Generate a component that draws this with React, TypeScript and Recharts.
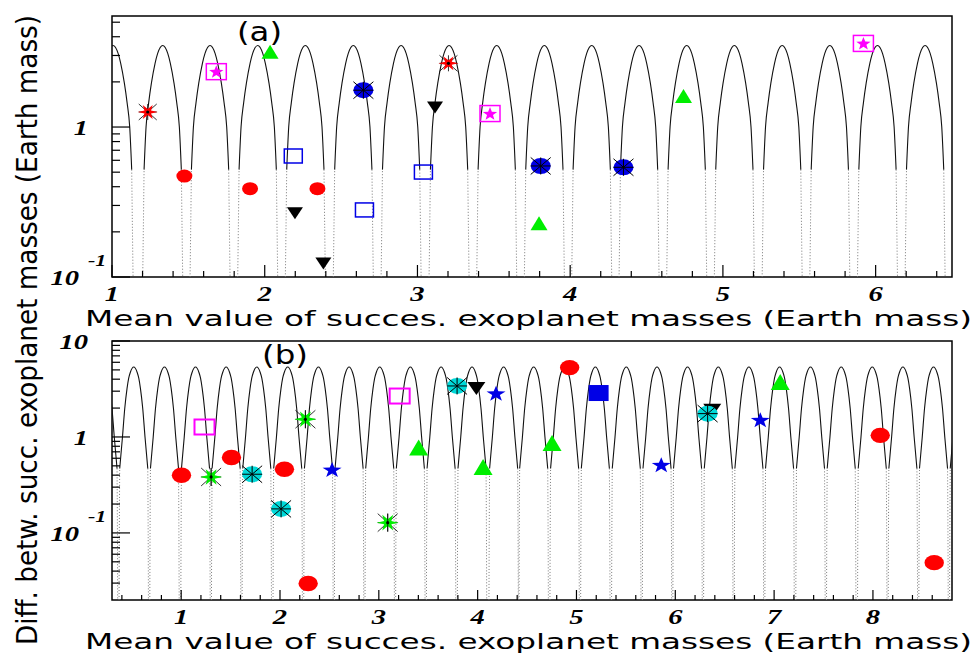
import React from "react";
import { ComposedChart, Line, Scatter, XAxis, YAxis, ReferenceArea } from "recharts";

// ---- panel (a) ----
// arc peaks (x) and the half-profile of one arc (offset from peak, value)
const aArcPeaks = [1.007, 1.332, 1.642, 1.954, 2.266, 2.58, 2.893, 3.207, 3.519, 3.831, 4.141, 4.451, 4.763, 5.075, 5.388, 5.7, 6.012, 6.324, 6.636];
const aArcOffsets = [0, 0.033, 0.05, 0.074, 0.092, 0.109, 0.122, 0.127, 0.131, 0.14];
const aArcValues = [3.5, 3.1, 2.66, 1.96, 1.45, 1.0, 0.52, 0.2, 0.1, 0.05];

const aRedStar = [{ x: 1.234, y: 1.26 }, { x: 3.203, y: 2.66 }];
const aMagentaBoxStar = [{ x: 1.683, y: 2.34 }, { x: 3.475, y: 1.23 }, { x: 5.92, y: 3.61 }];
const aGreenUp = [{ x: 2.035, y: 3.18 }, { x: 3.796, y: 0.228 }, { x: 4.742, y: 1.61 }];
const aBlueDisc = [{ x: 2.646, y: 1.76 }, { x: 3.807, y: 0.55 }, { x: 4.349, y: 0.539 }];
const aBlackDown = [{ x: 3.115, y: 1.35 }, { x: 2.198, y: 0.266 }, { x: 2.384, y: 0.123 }];
const aRedDisc = [{ x: 1.474, y: 0.471 }, { x: 1.904, y: 0.388 }, { x: 2.345, y: 0.388 }];
const aBlueBox = [{ x: 2.187, y: 0.641 }, { x: 3.039, y: 0.501 }, { x: 2.653, y: 0.28 }];

const aXMajor = [1, 2, 3, 4, 5, 6];
const aYTicks = [0.1, 0.2, 0.3, 0.4, 0.5, 0.6, 0.7, 0.8, 0.9, 1, 2, 3, 4, 5];
const aYLabels: Record<string, string> = { "1": "1", "0.1": "exp" };

// ---- panel (b) ----
const bArcPeaks = [0.209, 0.52, 0.831, 1.145, 1.455, 1.765, 2.078, 2.389, 2.699, 3.009, 3.319, 3.63, 3.943, 4.263, 4.567, 4.88, 5.191, 5.504, 5.815, 6.124, 6.435, 6.745, 7.055, 7.368, 7.679, 7.993, 8.303, 8.613, 8.924];
const bArcOffsets = [0, 0.035, 0.051, 0.068, 0.091, 0.114, 0.142, 0.146, 0.149];
const bArcValues = [5.36, 4.7, 4.1, 3.19, 1.98, 1.0, 0.47, 0.1, 0.015];

const bRedDisc = [{ x: 1.003, y: 0.399 }, { x: 1.509, y: 0.61 }, { x: 2.045, y: 0.461 }, { x: 2.285, y: 0.0297 }, { x: 4.931, y: 5.28 }, { x: 8.074, y: 1.04 }, { x: 8.62, y: 0.049 }];
const bGreenStar = [{ x: 1.303, y: 0.383 }, { x: 2.257, y: 1.53 }, { x: 3.09, y: 0.128 }];
const bMagentaBox = [{ x: 1.236, y: 1.27 }, { x: 3.211, y: 2.67 }];
const bBlackDown = [{ x: 3.987, y: 3.19 }, { x: 6.374, y: 1.9 }];
const bCyanDisc = [{ x: 1.718, y: 0.409 }, { x: 2.011, y: 0.178 }, { x: 3.792, y: 3.4 }, { x: 6.327, y: 1.75 }];
const bBlueStar = [{ x: 2.527, y: 0.461 }, { x: 4.186, y: 2.87 }, { x: 5.858, y: 0.516 }, { x: 6.86, y: 1.52 }];
const bGreenUp = [{ x: 3.403, y: 0.776 }, { x: 4.055, y: 0.487 }, { x: 4.753, y: 0.866 }, { x: 7.062, y: 3.74 }];
const bBlueBox = [{ x: 5.224, y: 2.87 }];

const bXMajor = [1, 2, 3, 4, 5, 6, 7, 8];
const bYTicks = [0.03, 0.04, 0.05, 0.06, 0.07, 0.08, 0.09, 0.1, 0.2, 0.3, 0.4, 0.5, 0.6, 0.7, 0.8, 0.9, 1, 2, 3, 4, 5, 6, 7, 8, 9, 10];
const bYLabels: Record<string, string> = { "10": "10", "1": "1", "0.1": "exp" };

const xTitle = "Mean value of succes. exoplanet masses (Earth mass)";
const yTitle = "Diff. betw. succ. exoplanet masses (Earth mass)";

const RED = "#ff0000";
const GREEN = "#00ee00";
const BLUE = "#0000e6";
const CYAN = "#00d8d8";
const MAGENTA = "#ff00ff";
const TICK_FONT = "'Liberation Serif', 'Times New Roman', serif";
const TITLE_FONT = "'DejaVu Sans', 'Liberation Sans', sans-serif";

// minor ticks every 0.2
const stepTicks = (from: number, to: number) => {
  const out: number[] = [];
  for (let v = from; v <= to + 1e-9; v += 0.2) out.push(Math.round(v * 10) / 10);
  return out;
};

// upper (solid) part of each arc, gaps between arcs
const arcHeads = (peaks: number[], offs: number[], vals: number[], cut: number) => {
  const pts: { x: number; y: number | null }[] = [];
  peaks.forEach((p) => {
    for (let i = cut; i > 0; i--) pts.push({ x: p - offs[i], y: vals[i] });
    for (let i = 0; i <= cut; i++) pts.push({ x: p + offs[i], y: vals[i] });
    pts.push({ x: p + offs[cut] + 0.001, y: null });
  });
  return pts;
};

// steep lower (dotted) legs of each arc
const arcLegs = (peaks: number[], offs: number[], vals: number[], cut: number) => {
  const pts: { x: number; y: number | null }[] = [];
  const last = offs.length - 1;
  peaks.forEach((p) => {
    for (let i = last; i >= cut; i--) pts.push({ x: p - offs[i], y: vals[i] });
    pts.push({ x: p - offs[cut] + 0.001, y: null });
    for (let i = cut; i <= last; i++) pts.push({ x: p + offs[i], y: vals[i] });
    pts.push({ x: p + offs[last] + 0.001, y: null });
  });
  return pts;
};

const starPts = (cx: number, cy: number, n: number, rx: number, ry: number, inner: number, start = -Math.PI / 2) => {
  const pts: string[] = [];
  for (let i = 0; i < 2 * n; i++) {
    const a = start + (i * Math.PI) / n;
    const f = i % 2 === 0 ? 1 : inner;
    pts.push(`${cx + Math.cos(a) * rx * f},${cy + Math.sin(a) * ry * f}`);
  }
  return pts.join(" ");
};

const asterisk = (cx: number, cy: number, rx: number, ry: number, w = 1) => (
  <g stroke="#000" strokeWidth={w}>
    <line x1={cx - rx} x2={cx + rx} y1={cy} y2={cy} />
    <line x1={cx} x2={cx} y1={cy - ry} y2={cy + ry} />
    <line x1={cx - rx} x2={cx + rx} y1={cy - ry} y2={cy + ry} />
    <line x1={cx - rx} x2={cx + rx} y1={cy + ry} y2={cy - ry} />
  </g>
);

const redStar = (p: any) => (
  <g>
    {asterisk(p.cx, p.cy, 9, 8, 0.8)}
    <polygon points={starPts(p.cx, p.cy, 6, 10, 8, 0.38, 0)} fill={RED} />
    <circle cx={p.cx} cy={p.cy} r={1.6} fill="#000" />
  </g>
);
const greenStar = (p: any) => (
  <g>
    {asterisk(p.cx, p.cy, 10, 9, 0.8)}
    <polygon points={starPts(p.cx, p.cy, 6, 11, 9, 0.38, 0)} fill={GREEN} />
    <line x1={p.cx} x2={p.cx} y1={p.cy - 9} y2={p.cy + 9} stroke="#000" strokeWidth={0.8} />
    <circle cx={p.cx} cy={p.cy} r={1.6} fill="#000" />
  </g>
);
const disc = (fill: string) => (p: any) => (
  <g>
    <ellipse cx={p.cx} cy={p.cy} rx={10} ry={8} fill={fill} />
    {asterisk(p.cx, p.cy, 10, 8.5)}
  </g>
);
const magentaBoxStar = (p: any) => (
  <g>
    <rect x={p.cx - 10} y={p.cy - 8} width={20} height={16} fill="none" stroke={MAGENTA} strokeWidth={1.5} />
    <polygon points={starPts(p.cx, p.cy + 0.5, 5, 7.5, 7, 0.42)} fill={MAGENTA} />
  </g>
);
const openBox = (stroke: string, w: number, h: number, sw: number) => (p: any) => (
  <rect x={p.cx - w / 2} y={p.cy - h / 2} width={w} height={h} fill="none" stroke={stroke} strokeWidth={sw} />
);
const fullBox = (p: any) => <rect x={p.cx - 10} y={p.cy - 8} width={20} height={16} fill={BLUE} />;
const triUp = (w: number, h: number) => (p: any) => (
  <polygon points={`${p.cx},${p.cy - h / 2} ${p.cx + w / 2},${p.cy + h / 2} ${p.cx - w / 2},${p.cy + h / 2}`} fill={GREEN} />
);
const triDown = (w: number, h: number) => (p: any) => (
  <polygon points={`${p.cx - w / 2},${p.cy - h / 2} ${p.cx + w / 2},${p.cy - h / 2} ${p.cx},${p.cy + h / 2}`} fill="#000" />
);
const redDisc = (rx: number, ry: number) => (p: any) => <ellipse cx={p.cx} cy={p.cy} rx={rx} ry={ry} fill={RED} />;
const blueStar = (p: any) => <polygon points={starPts(p.cx, p.cy + 1, 5, 10, 8.3, 0.4)} fill={BLUE} />;

const tickText = (x: number, y: number, s: string, anchor: string, size = 22) => (
  <g transform={`translate(${x},${y}) scale(1.3,1)`}>
    <text textAnchor={anchor} fontFamily={TICK_FONT} fontWeight="bold" fontStyle="italic" fontSize={size} fill="#000">
      {s}
    </text>
  </g>
);

const XTick = (props: any) => {
  const { x, y, payload } = props;
  const v = payload.value;
  const major = props.majors.includes(v);
  return (
    <g>
      <line x1={x} x2={x} y1={y} y2={y - (major ? props.big : props.small)} stroke="#000" strokeWidth={1.2} />
      {major && tickText(x, y + 24, String(v), "middle")}
    </g>
  );
};

const YTick = (props: any) => {
  const { x, y, payload } = props;
  const lab = props.labels[String(payload.value)];
  return (
    <g>
      <line x1={x} x2={x + (lab ? 18 : 8)} y1={y} y2={y} stroke="#000" strokeWidth={1.2} />
      {lab === "exp" && (
        <g>
          {tickText(x - 33, y + 8, "10", "end")}
          {tickText(x - 24, y - 11, "-1", "start", 17)}
        </g>
      )}
      {lab && lab !== "exp" && tickText(x - 24, y + 8, lab, "end")}
    </g>
  );
};

const aXTicks = stepTicks(1, 6.4);
const bXTicks = stepTicks(0.4, 8.6);

const Panel = (cfg: any) => (
  <ComposedChart width={976} height={cfg.height} margin={{ top: cfg.top, right: 24, bottom: 0, left: 0 }}>
    <XAxis
      type="number"
      dataKey="x"
      domain={cfg.xDomain}
      allowDataOverflow
      ticks={cfg.xTicks}
      interval={0}
      tickSize={0}
      tickMargin={0}
      axisLine={false}
      tickLine={false}
      height={cfg.xHeight}
      tick={<XTick majors={cfg.xMajor} big={cfg.bigTick} small={cfg.smallTick} />}
    />
    <YAxis
      type="number"
      dataKey="y"
      scale="log"
      domain={cfg.yDomain}
      allowDataOverflow
      ticks={cfg.yTicks}
      interval={0}
      tickSize={0}
      tickMargin={0}
      axisLine={false}
      tickLine={false}
      width={112}
      tick={<YTick labels={cfg.yLabels} />}
    />
    <Line
      data={arcLegs(cfg.peaks, cfg.offs, cfg.vals, cfg.cut)}
      dataKey="y"
      type="monotoneX"
      stroke="#777"
      strokeWidth={1}
      strokeDasharray="1 2"
      dot={false}
      activeDot={false}
      connectNulls={false}
      isAnimationActive={false}
    />
    <Line
      data={arcHeads(cfg.peaks, cfg.offs, cfg.vals, cfg.cut)}
      dataKey="y"
      type="monotoneX"
      stroke="#111"
      strokeWidth={1.1}
      dot={false}
      activeDot={false}
      connectNulls={false}
      isAnimationActive={false}
    />
    {cfg.series.map((s: any, i: number) => (
      <Scatter key={i} data={s.data} shape={s.shape} isAnimationActive={false} />
    ))}
    <ReferenceArea
      x1={cfg.xDomain[0]}
      x2={cfg.xDomain[1]}
      y1={cfg.yDomain[0]}
      y2={cfg.yDomain[1]}
      fill="none"
      stroke="#000"
      strokeWidth={1.5}
      ifOverflow="visible"
    />
  </ComposedChart>
);

export default function App() {
  const seriesA = [
    { data: aRedDisc, shape: redDisc(8, 6.5) },
    { data: aBlueBox, shape: openBox(BLUE, 18, 14, 1.5) },
    { data: aBlackDown, shape: triDown(16, 12) },
    { data: aGreenUp, shape: triUp(17, 14) },
    { data: aBlueDisc, shape: disc(BLUE) },
    { data: aMagentaBoxStar, shape: magentaBoxStar },
    { data: aRedStar, shape: redStar },
  ];
  const seriesB = [
    { data: bRedDisc, shape: redDisc(9.7, 7.7) },
    { data: bMagentaBox, shape: openBox(MAGENTA, 20, 15, 2) },
    { data: bBlackDown, shape: triDown(18, 13) },
    { data: bCyanDisc, shape: disc(CYAN) },
    { data: bGreenStar, shape: greenStar },
    { data: bBlueStar, shape: blueStar },
    { data: bGreenUp, shape: triUp(19, 16) },
    { data: bBlueBox, shape: fullBox },
  ];
  return (
    <div style={{ position: "absolute", left: 0, top: 0, width: 976, height: 657, background: "#fff", overflow: "hidden" }}>
      <div style={{ position: "absolute", left: 0, top: 0 }}>
        <Panel
          height={330}
          top={16}
          xHeight={53}
          xDomain={[1, 6.5]}
          yDomain={[0.1, 5.5]}
          xTicks={aXTicks}
          xMajor={aXMajor}
          yTicks={aYTicks}
          yLabels={aYLabels}
          bigTick={12}
          smallTick={6}
          peaks={aArcPeaks}
          offs={aArcOffsets}
          vals={aArcValues}
          cut={6}
          series={seriesA}
        />
      </div>
      <div style={{ position: "absolute", left: 0, top: 330 }}>
        <Panel
          height={327}
          top={11}
          xHeight={57}
          xDomain={[0.3, 8.8]}
          yDomain={[0.02, 10]}
          xTicks={bXTicks}
          xMajor={bXMajor}
          yTicks={bYTicks}
          yLabels={bYLabels}
          bigTick={10}
          smallTick={5}
          peaks={bArcPeaks}
          offs={bArcOffsets}
          vals={bArcValues}
          cut={6}
          series={seriesB}
        />
      </div>
      <svg width={976} height={657} style={{ position: "absolute", left: 0, top: 0, pointerEvents: "none" }}>
        <g fontFamily={TITLE_FONT} fill="#000">
          <text x={85} y={326} fontSize={22} textLength={887} lengthAdjust="spacingAndGlyphs">
            {xTitle}
          </text>
          <text x={85} y={649} fontSize={22} textLength={887} lengthAdjust="spacingAndGlyphs">
            {xTitle}
          </text>
          <text transform="translate(37,645) rotate(-90) scale(1,1.25)" x={0} y={0} fontSize={23} textLength={630} lengthAdjust="spacingAndGlyphs">
            {yTitle}
          </text>
          <text x={237} y={41} fontSize={26} textLength={45} lengthAdjust="spacingAndGlyphs">
            (a)
          </text>
          <text x={262} y={364} fontSize={26} textLength={46} lengthAdjust="spacingAndGlyphs">
            (b)
          </text>
        </g>
      </svg>
    </div>
  );
}
